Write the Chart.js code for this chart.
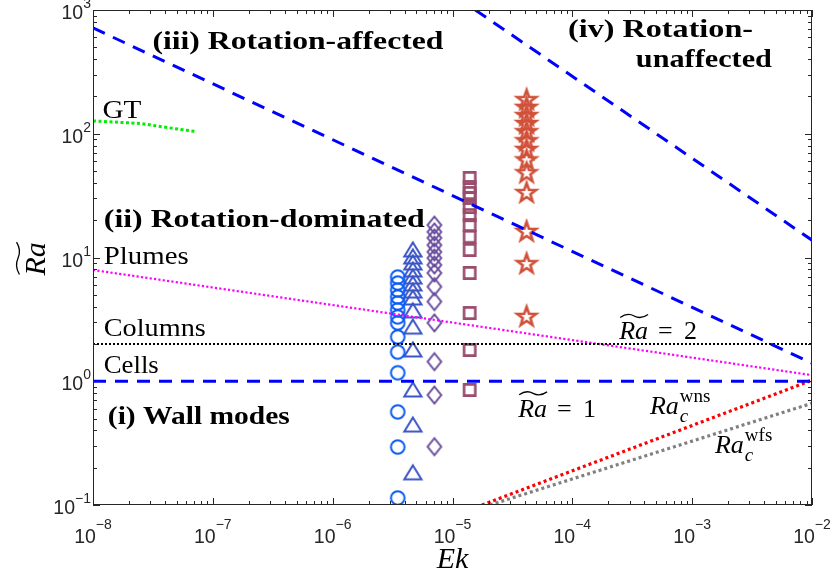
<!DOCTYPE html>
<html>
<head>
<meta charset="utf-8">
<script src="https://cdn.jsdelivr.net/npm/chart.js@4.4.1/dist/chart.umd.min.js"></script>
<style>
  html, body { margin: 0; padding: 0; background: #fff; }
</style>
</head>
<body>
<canvas id="chart" width="830" height="572"></canvas>
<script>
// Ek position of each marker column
const ekCircle = 3.49e-6;
const ekTriangle = 4.67e-6;
const ekDiamond = 7.06e-6;
const ekSquare = 1.39e-5;
const ekStar = 4.15e-5;

// Ra~ values of each column
const raCircle = [6.95, 6.22, 5.46, 4.80, 4.29, 3.77, 3.31, 2.96, 2.28, 1.72, 1.17, 0.565, 0.294, 0.114];
const raTriangle = [11.5, 10.1, 9.03, 7.93, 6.95, 6.11, 5.36, 4.71, 3.70, 2.74, 1.79, 0.85, 0.443, 0.182];
const raDiamond = [18.3, 16.1, 14.4, 12.6, 11.1, 9.9, 8.7, 7.5, 5.81, 4.40, 2.96, 1.44, 0.774, 0.296];
const raSquare = [43.9, 37.1, 33.2, 30.3, 25.6, 22.0, 18.3, 14.7, 11.5, 7.5, 3.56, 1.79, 0.85];
const raStar = [187, 162, 139, 120, 103, 87, 74, 61, 48, 33.2, 16.1, 8.85, 3.31];

// regime boundaries / transitions (Ek, Ra~ pairs)
const unaffectedEk = [1.55e-5, 1e-2];
const unaffectedRa = [1000, 13.8];
const affectedEk = [1e-8, 1e-2];
const affectedRa = [716, 1.4];
const wallEk = [1e-8, 1e-2];
const wallRa = [1, 1];
const columnsEk = [1e-8, 1e-2];
const columnsRa = [2, 2];
const plumesEk = [1e-8, 1e-2];
const plumesRa = [7.93, 1.12];
const gtEk = [1e-8, 2.5e-8, 4.5e-8, 7.3e-8];
const gtRa = [127, 121, 111, 104];
const wnsEk = [1.76e-5, 1e-2];
const wnsRa = [0.1, 1.02];
const wfsEk = [2.05e-5, 1e-2];
const wfsRa = [0.1, 0.664];

// tick labels (powers of ten)
const xTickExp = [-8, -7, -6, -5, -4, -3, -2];
const yTickExp = [-1, 0, 1, 2, 3];

const SERIF = '"Liberation Serif", "Times New Roman", serif';
const SANS = '"Liberation Sans", Arial, sans-serif';

function pairs(xs, ys) {
  return xs.map((v, i) => ({ x: v, y: ys[i] }));
}
function column(ek, ras) {
  return ras.map(r => ({ x: ek, y: r }));
}

// MATLAB-like open markers
function marker(kind, color) {
  const c = document.createElement('canvas');
  c.width = 28; c.height = 28;
  const g = c.getContext('2d');
  const m = 14;
  g.strokeStyle = color;
  g.lineWidth = 2;
  g.lineJoin = 'miter';
  g.beginPath();
  if (kind === 'circle') {
    g.arc(m, m, 6.8, 0, Math.PI * 2);
  } else if (kind === 'triangle') {
    g.moveTo(m, m - 7.5);
    g.lineTo(m + 8.6, m + 6.5);
    g.lineTo(m - 8.6, m + 6.5);
    g.closePath();
  } else if (kind === 'diamond') {
    g.moveTo(m, m - 8.5);
    g.lineTo(m + 6.8, m);
    g.lineTo(m, m + 8.5);
    g.lineTo(m - 6.8, m);
    g.closePath();
  } else if (kind === 'square') {
    g.lineWidth = 2.6;
    g.rect(m - 5.6, m - 5.6, 11.2, 11.2);
  } else if (kind === 'star') {
    g.lineWidth = 2.6;
    for (let i = 0; i < 10; i++) {
      const r = i % 2 === 0 ? 10 : 4;
      const a = -Math.PI / 2 + i * Math.PI / 5;
      const px = m + r * Math.cos(a), py = m + r * Math.sin(a);
      if (i === 0) g.moveTo(px, py); else g.lineTo(px, py);
    }
    g.closePath();
  }
  g.stroke();
  return c;
}

function markerSet(ek, ras, kind, color) {
  return {
    data: column(ek, ras),
    showLine: false,
    pointStyle: marker(kind, color),
    pointRadius: 8,
    order: 10
  };
}

function lineSet(xs, ys, color, width, dash, order) {
  return {
    data: pairs(xs, ys),
    showLine: true,
    borderColor: color,
    borderWidth: width,
    borderDash: dash,
    pointRadius: 0,
    order: order
  };
}

// text annotations, anchored in data coordinates
const textLabels = [
  { text: '(iii) Rotation-affected', ek: 3.13e-8, ra: 484, bold: true, width: 291 },
  { text: '(iv) Rotation-', ek: 9.2e-5, ra: 602, bold: true, width: 185 },
  { text: 'unaffected', ek: 3.39e-4, ra: 348, bold: true, width: 136 },
  { text: '(ii) Rotation-dominated', ek: 1.23e-8, ra: 17.7, bold: true, width: 321 },
  { text: '(i) Wall modes', ek: 1.33e-8, ra: 0.452, bold: true, width: 182 },
  { text: 'GT', ek: 1.2e-8, ra: 134, width: 39 },
  { text: 'Plumes', ek: 1.23e-8, ra: 8.86, width: 85 },
  { text: 'Columns', ek: 1.23e-8, ra: 2.32, width: 102 },
  { text: 'Cells', ek: 1.23e-8, ra: 1.17, width: 55 }
];
const tildeLabels = [
  { value: '2', ek: 2.46e-4, ra: 2.18 },
  { value: '1', ek: 3.53e-5, ra: 0.517 }
];
const critLabels = [
  { sup: 'wns', ek: 4.44e-4, ra: 0.541 },
  { sup: 'wfs', ek: 1.55e-3, ra: 0.262 }
];

function fitText(ctx, text, x, y, width) {
  const w = ctx.measureText(text).width;
  const k = width ? width / w : 1;
  ctx.save();
  ctx.translate(x, y);
  ctx.scale(k, 1);
  ctx.fillText(text, 0, 0);
  ctx.restore();
}

function tilde(ctx, x0, x1, yc) {
  const w = x1 - x0, a = 1.8;
  ctx.save();
  ctx.lineWidth = 1.3;
  ctx.strokeStyle = '#000';
  ctx.beginPath();
  ctx.moveTo(x0, yc + a * 0.8);
  ctx.bezierCurveTo(x0 + w * 0.2, yc - a * 1.4, x0 + w * 0.38, yc - a, x0 + w * 0.5, yc);
  ctx.bezierCurveTo(x0 + w * 0.62, yc + a, x0 + w * 0.8, yc + a * 1.4, x1, yc - a * 0.8);
  ctx.stroke();
  ctx.restore();
}

// "Ra" with a wide tilde, left/baseline at x, y
function raTilde(ctx, x, y, size) {
  ctx.font = 'italic ' + size + 'px ' + SERIF;
  const w = ctx.measureText('Ra').width;
  ctx.fillText('Ra', x, y);
  tilde(ctx, x + 1, x + w, y - size * 0.9);
  return w;
}

const frameAndText = {
  id: 'frameAndText',
  afterDraw(chart) {
    const { ctx, chartArea: a, scales: { x, y } } = chart;
    ctx.save();
    // frame
    ctx.strokeStyle = '#262626';
    ctx.lineWidth = 1;
    ctx.strokeRect(a.left + 0.5, a.top + 0.5, a.right - a.left - 1, a.bottom - a.top - 1);
    // log ticks, inward on all four sides
    ctx.beginPath();
    for (let e = -8; e <= -2; e++) {
      for (let m = 1; m <= 9; m++) {
        const v = m * Math.pow(10, e);
        if (v > 1.0001e-2) break;
        const px = Math.round(x.getPixelForValue(v)) + 0.5;
        const len = m === 1 ? 7 : 4;
        ctx.moveTo(px, a.bottom); ctx.lineTo(px, a.bottom - len);
        ctx.moveTo(px, a.top); ctx.lineTo(px, a.top + len);
      }
    }
    for (let e = -1; e <= 3; e++) {
      for (let m = 1; m <= 9; m++) {
        const v = m * Math.pow(10, e);
        if (v > 1000.1) break;
        const py = Math.round(y.getPixelForValue(v)) + 0.5;
        const len = m === 1 ? 7 : 4;
        ctx.moveTo(a.left, py); ctx.lineTo(a.left + len, py);
        ctx.moveTo(a.right, py); ctx.lineTo(a.right - len, py);
      }
    }
    ctx.stroke();

    // tick labels
    ctx.fillStyle = '#262626';
    ctx.textBaseline = 'alphabetic';
    const base = '19.5px ' + SANS, sup = '14px ' + SANS;
    xTickExp.forEach(e => {
      const px = x.getPixelForValue(Math.pow(10, e));
      ctx.font = base; const w1 = ctx.measureText('10').width;
      ctx.font = sup; const s = String(e).replace('-', '\u2212'); const w2 = ctx.measureText(s).width;
      const left = px - (w1 + w2) / 2;
      ctx.font = base; ctx.fillText('10', left, 543);
      ctx.font = sup; ctx.fillText(s, left + w1, 529);
    });
    yTickExp.forEach(e => {
      const py = y.getPixelForValue(Math.pow(10, e));
      const s = String(e).replace('-', '\u2212');
      ctx.font = sup; const w2 = ctx.measureText(s).width;
      ctx.font = base; const w1 = ctx.measureText('10').width;
      const right = a.left - 2;
      ctx.fillText('10', right - w2 - w1, py + 9);
      ctx.font = sup; ctx.fillText(s, right - w2, py - 2);
    });

    // axis titles
    ctx.fillStyle = '#000';
    ctx.font = 'italic 30px ' + SERIF;
    const ekW = ctx.measureText('Ek').width;
    ctx.fillText('Ek', (a.left + a.right) / 2 - ekW / 2, 568);
    ctx.save();
    ctx.translate(45, (a.top + a.bottom) / 2 + 18);
    ctx.rotate(-Math.PI / 2);
    raTilde(ctx, 0, 0, 30);
    ctx.restore();

    // regime and transition labels
    textLabels.forEach(l => {
      ctx.font = (l.bold ? 'bold 26px ' : '25px ') + SERIF;
      fitText(ctx, l.text, x.getPixelForValue(l.ek), y.getPixelForValue(l.ra), l.width);
    });
    tildeLabels.forEach(l => {
      const px = x.getPixelForValue(l.ek), py = y.getPixelForValue(l.ra);
      const w = raTilde(ctx, px, py, 26);
      ctx.font = '26px ' + SERIF;
      ctx.fillText('=', px + w + 10, py);
      ctx.fillText(l.value, px + w + 36, py);
    });
    critLabels.forEach(l => {
      const px = x.getPixelForValue(l.ek), py = y.getPixelForValue(l.ra);
      ctx.font = 'italic 26px ' + SERIF;
      const w = ctx.measureText('Ra').width;
      ctx.fillText('Ra', px, py);
      ctx.font = 'italic 19px ' + SERIF;
      ctx.fillText('c', px + w + 1, py + 7.5);
      ctx.font = '19px ' + SERIF;
      ctx.fillText(l.sup, px + w + 1, py - 12.5);
    });
    ctx.restore();
  }
};

new Chart(document.getElementById('chart').getContext('2d'), {
  type: 'scatter',
  data: {
    datasets: [
      lineSet(unaffectedEk, unaffectedRa, '#0000ff', 3, [13, 9], 1),
      lineSet(affectedEk, affectedRa, '#0000ff', 3, [13, 9], 1),
      lineSet(wallEk, wallRa, '#0000ff', 3, [13, 9], 1),
      lineSet(columnsEk, columnsRa, '#000000', 2, [2, 2], 2),
      lineSet(plumesEk, plumesRa, '#ff00ff', 2.2, [2.2, 2.2], 2),
      lineSet(gtEk, gtRa, '#00ee00', 3, [3, 2.5], 2),
      lineSet(wnsEk, wnsRa, '#ff0000', 3.2, [3, 3], 2),
      lineSet(wfsEk, wfsRa, '#808080', 3.2, [3, 3], 3),
      markerSet(ekCircle, raCircle, 'circle', '#0a5cf5'),
      markerSet(ekTriangle, raTriangle, 'triangle', '#3c55c4'),
      markerSet(ekDiamond, raDiamond, 'diamond', '#684c9c'),
      markerSet(ekSquare, raSquare, 'square', '#9a4c6c'),
      markerSet(ekStar, raStar, 'star', '#d0513a')
    ]
  },
  options: {
    responsive: false,
    animation: false,
    layout: { padding: { left: 93, right: 18, top: 10, bottom: 67 } },
    scales: {
      x: { type: 'logarithmic', min: 1e-8, max: 1e-2, display: false },
      y: { type: 'logarithmic', min: 0.1, max: 1000, display: false }
    },
    plugins: {
      legend: { display: false },
      tooltip: { enabled: false }
    }
  },
  plugins: [frameAndText]
});
</script>
</body>
</html>
